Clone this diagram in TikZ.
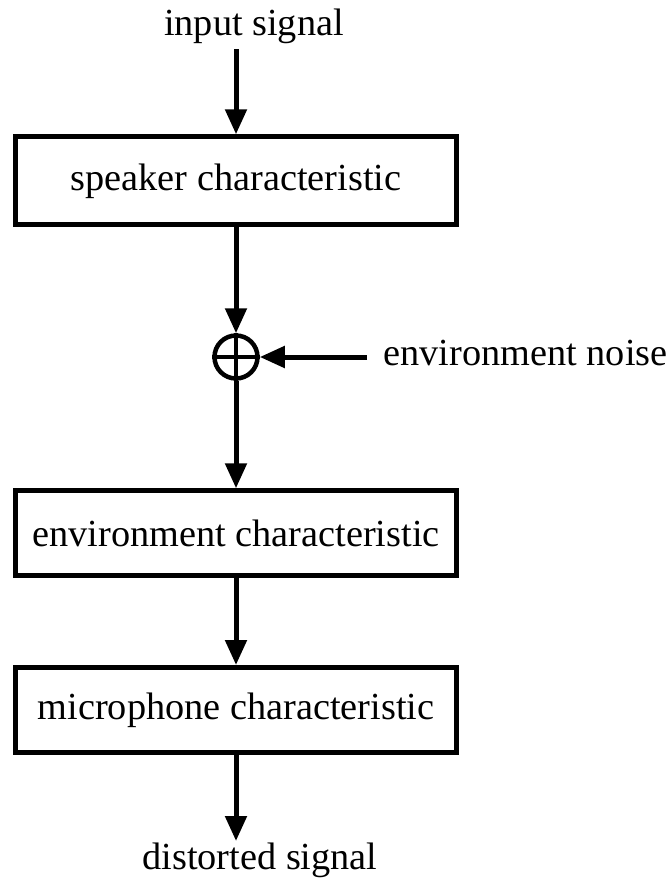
\documentclass[tikz,border=0pt]{standalone}
\usepackage{fontspec}
\setmainfont{Liberation Serif}
\usetikzlibrary{arrows.meta}
\begin{document}
\begin{tikzpicture}[x=1pt,y=-1pt,
  every node/.style={font=\fontsize{38.3}{46}\selectfont},
  block/.style={draw,line width=5pt,minimum width=441pt,inner sep=0pt,anchor=center},
  flow/.style={line width=5pt,-{Triangle[width=21pt,length=25pt]}},
  plain/.style={line width=5pt}]
\useasboundingbox (0,0) rectangle (668,884);

% labels at the ends of the chain
\node[anchor=base] (in) at (254,35) {input signal};
\node[anchor=base] (out) at (260,869) {distorted signal};
\node[anchor=base west] (noise) at (380,365) {environment noise};

% processing blocks
\node[block,minimum height=88pt] (spk) at (236,180.8) {speaker characteristic};
\node[block,minimum height=85pt] (env) at (236,533.3) {environment characteristic};
\node[block,minimum height=85pt] (mic) at (236,710) {microphone characteristic};

% summing junction
\node[draw,circle,line width=4.5pt,minimum size=43pt,inner sep=0pt] (sum) at (236,357) {};
\draw[line width=4pt] (sum.north) -- (sum.south);
\draw[line width=4pt] (sum.west) -- (sum.east);

% free ends of the connectors
\coordinate (a0) at (236,49);
\coordinate (n0) at (367,357);
\coordinate (z0) at (236,841);

% signal path
\draw[flow] (a0) -- (spk.north);
\draw[flow] (spk.south) -- (sum.north);
\draw[flow] (n0) -- (sum.east);
\draw[flow] (sum.south) -- (env.north);
\draw[flow] (env.south) -- (mic.north);
\draw[flow] (mic.south) -- (z0);
\end{tikzpicture}
\end{document}
